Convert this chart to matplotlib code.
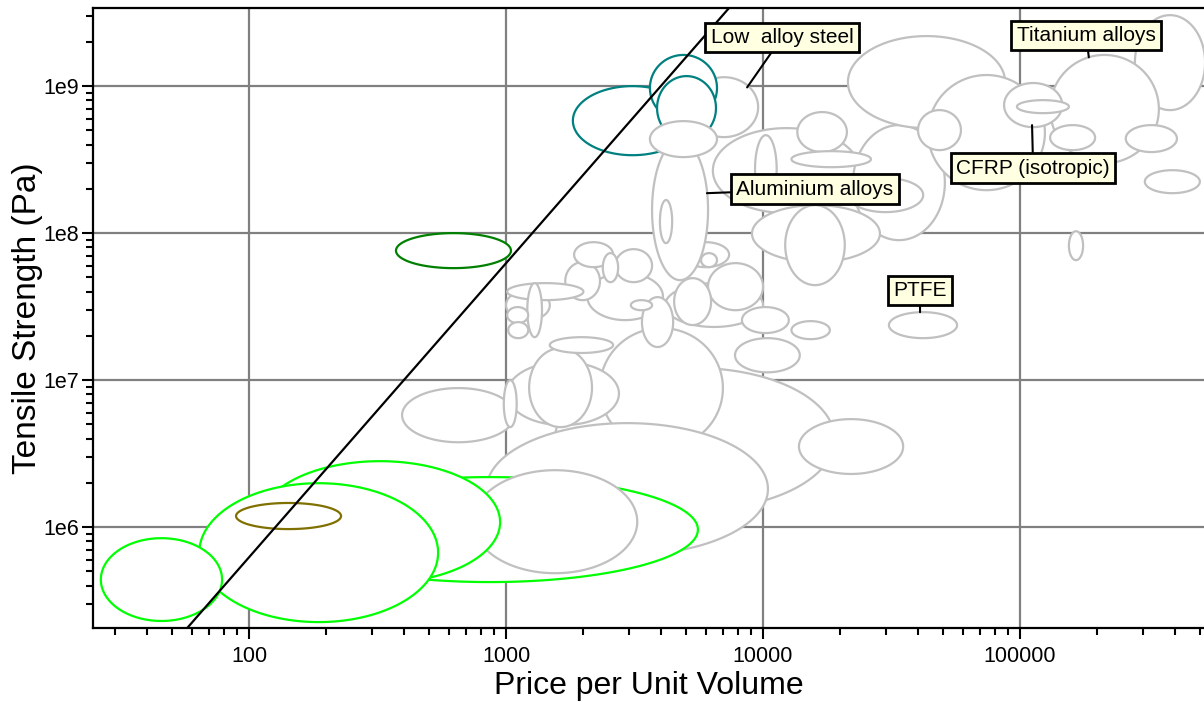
import matplotlib

matplotlib.use("Agg")
import matplotlib.pyplot as plt
import numpy as np
from matplotlib.ticker import FixedLocator, FuncFormatter, LogLocator, NullFormatter

plt.rcParams["font.family"] = ["Liberation Sans", "DejaVu Sans"]

# material bubbles: price range and strength range, listed in drawing order
groups = ["other"] * 8 + ["foam", "other", "foam", "foam", "foam", "cork"] + ["other"] * 44 \
    + ["steel", "steel", "steel", "other", "wood"]
price_lo = [1550, 2320, 394, 1010, 980, 1230, 1480, 840,
            134, 744, 110, 64, 26.5, 89,
            13800, 2070, 4160, 1700, 1840, 2660, 2380, 1000, 1010, 1210, 1010, 1020,
            3380, 3060, 4840, 5740, 6110, 4510, 8280, 7780, 12900,
            3700, 3970, 6380, 22400, 21400, 43900, 40100, 9060, 12200, 21400, 9310,
            13600, 12900, 280000, 131000, 86700, 97300, 131000, 258000, 306000,
            155000, 30900, 5200,
            1820, 3630, 3870, 3630, 373]
price_hi = [19000, 6980, 1080, 2750, 1100, 2160, 2610, 10450,
            5580, 3240, 948, 544, 78.5, 228,
            35100, 4080, 10000, 2320, 2610, 3700, 2730, 1480, 2000, 1380, 1220, 1220,
            4470, 3700, 7380, 6620, 10000, 6280, 12600, 13900, 18200,
            6110, 4430, 23800, 51000, 87500, 125000, 58900, 28500, 20800, 42000, 11300,
            21200, 26300, 525000, 347000, 146000, 155000, 196000, 408000, 501000,
            176000, 56900, 9570,
            5300, 6620, 6560, 6620, 1045]
strength_lo = [1.31e6, 3.44e6, 3.78e6, 4.94e6, 4.79e6, 4.79e6, 1.53e7, 6.46e5,
               4.23e5, 4.86e5, 4.16e5, 2.26e5, 2.30e5, 9.7e5,
               2.30e6, 2.56e7, 2.30e7, 3.50e7, 5.87e7, 4.64e7, 4.64e7, 2.56e7, 3.50e7,
               1.96e7, 2.44e7, 1.93e7,
               1.68e7, 2.99e7, 5.87e7, 5.87e7, 2.99e7, 2.37e7, 2.09e7, 1.13e7, 1.90e7,
               4.79e7, 8.55e7, 1.37e8, 8.96e7, 5.18e8, 1.96e8, 3.67e8, 6.35e7, 4.43e7,
               1.39e8, 1.60e8,
               3.56e8, 2.81e8, 6.87e8, 2.99e8, 5.26e8, 6.55e8, 3.67e8, 3.56e8, 1.87e8,
               6.55e7, 1.93e7, 4.50e8,
               3.39e8, 5.78e8, 4.30e8, 3.29e8, 5.78e7]
strength_hi = [1.21e7, 2.26e7, 8.83e6, 1.33e7, 1.0e7, 1.65e7, 1.96e7, 5.10e6,
               2.19e6, 2.44e6, 2.81e6, 1.99e6, 8.41e5, 1.46e6,
               5.43e6, 5.35e7, 4.57e7, 6.35e7, 8.68e7, 7.78e7, 7.31e7, 4.09e7, 4.57e7,
               4.57e7, 3.14e7, 2.48e7,
               3.67e7, 3.50e7, 8.68e7, 7.31e7, 6.25e7, 4.94e7, 3.14e7, 1.93e7, 2.52e7,
               4.30e8, 1.68e8, 5.18e8, 5.43e8, 2.19e9, 1.19e9, 6.87e8, 1.55e8, 1.55e8,
               2.37e8, 4.64e8,
               6.66e8, 3.61e8, 3.04e9, 1.63e9, 1.05e9, 8.03e8, 5.43e8, 5.43e8, 2.68e8,
               1.03e8, 2.90e7, 1.15e9,
               1.0e9, 1.63e9, 1.17e9, 5.78e8, 1.0e8]

# design guide line (strength ~ price^2)
guide_price = [50, 8000]
guide_strength = [1.56e5, 4.0e9]

# labelled materials: text, bubble point, label position
label_text = ["Low  alloy steel", "Titanium alloys", "CFRP (isotropic)",
              "Aluminium alloys", "PTFE"]
label_xy = [(8670, 9.8e8), (185300, 1.57e9), (111400, 5.43e8), (6050, 1.87e8), (40830, 2.9e7)]
label_pos = [(11860, 2.15e9), (180700, 2.22e9), (112500, 2.77e8), (15920, 1.99e8), (40830, 4.09e7)]

x_ticks = [100, 1000, 10000, 100000]
y_ticks = [1e6, 1e7, 1e8, 1e9]

COLORS = {"other": "#c0c0c0", "foam": "#00ff00", "cork": "#807000",
          "steel": "#008080", "wood": "#008000"}


def main():
    fig = plt.figure(figsize=(12.04, 7.02), dpi=100)
    ax = fig.add_axes([93 / 1204, 1 - 628 / 702, 1 - 93 / 1204, 620 / 702])
    ax.set_xscale("log")
    ax.set_yscale("log")
    ax.set_xlim(24.7, 5.2e5)
    ax.set_ylim(2.06e5, 3.4e9)

    t = np.linspace(0, 2 * np.pi, 240)
    for k, g in enumerate(groups):
        cx = (np.log10(price_lo[k]) + np.log10(price_hi[k])) / 2
        hx = (np.log10(price_hi[k]) - np.log10(price_lo[k])) / 2
        cy = (np.log10(strength_lo[k]) + np.log10(strength_hi[k])) / 2
        hy = (np.log10(strength_hi[k]) - np.log10(strength_lo[k])) / 2
        ax.fill(10 ** (cx + hx * np.cos(t)), 10 ** (cy + hy * np.sin(t)),
                facecolor="white", edgecolor=COLORS[g], lw=1.6, zorder=2 + k * 0.01)

    ax.plot(guide_price, guide_strength, color="black", lw=1.6, zorder=5)

    for txt, xy, pos in zip(label_text, label_xy, label_pos):
        ax.annotate(txt, xy=xy, xytext=pos, ha="center", va="center", fontsize=15,
                    zorder=6,
                    bbox=dict(boxstyle="square,pad=0.25", fc="#ffffe1", ec="black", lw=2),
                    arrowprops=dict(arrowstyle="-", color="black", lw=1.5,
                                    shrinkA=0, shrinkB=0))

    ax.xaxis.set_major_locator(FixedLocator(x_ticks))
    ax.yaxis.set_major_locator(FixedLocator(y_ticks))
    ax.xaxis.set_minor_locator(LogLocator(base=10, subs=np.arange(2, 10)))
    ax.yaxis.set_minor_locator(LogLocator(base=10, subs=np.arange(2, 10)))
    ax.xaxis.set_major_formatter(FuncFormatter(lambda v, p: f"{v:.0f}"))
    ax.yaxis.set_major_formatter(FuncFormatter(lambda v, p: f"1e{int(round(np.log10(v)))}"))
    ax.xaxis.set_minor_formatter(NullFormatter())
    ax.yaxis.set_minor_formatter(NullFormatter())

    ax.set_axisbelow(True)
    ax.grid(True, which="major", color="#808080", lw=1.6)
    ax.tick_params(which="major", direction="out", length=8, width=1.5, labelsize=15.5,
                   colors="black")
    ax.tick_params(which="minor", direction="out", length=5, width=1.5)
    ax.tick_params(axis="x", pad=5)
    ax.tick_params(axis="y", pad=2)
    for side in ["left", "bottom", "top"]:
        ax.spines[side].set_linewidth(1.6)
    ax.spines["right"].set_visible(False)

    ax.set_xlabel("Price per Unit Volume", fontsize=23)
    ax.set_ylabel("Tensile Strength (Pa)", fontsize=24)
    ax.xaxis.set_label_coords(0.5, -0.069)
    ax.yaxis.set_label_coords(-0.045, 0.5)

    fig.savefig("out.png", dpi=100)


if __name__ == "__main__":
    main()
